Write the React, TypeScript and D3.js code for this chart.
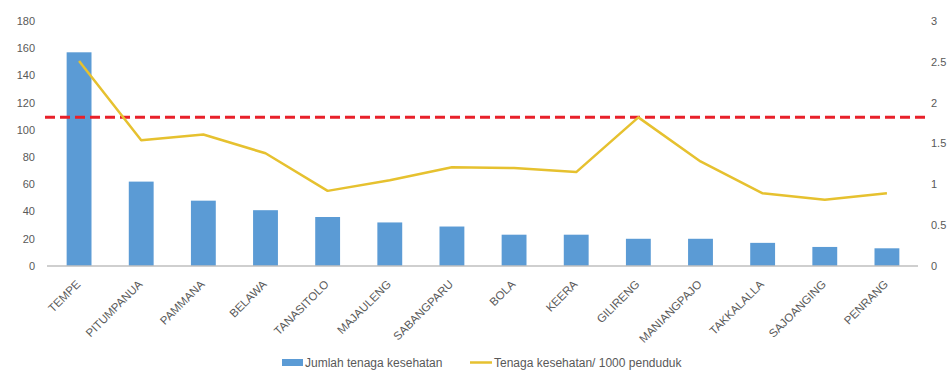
import React from "react";
import * as d3 from "d3";

const categories = ["TEMPE","PITUMPANUA","PAMMANA","BELAWA","TANASITOLO","MAJAULENG","SABANGPARU","BOLA","KEERA","GILIRENG","MANIANGPAJO","TAKKALALLA","SAJOANGING","PENRANG"];
const jumlahTenaga = [157, 62, 48, 41, 36, 32, 29, 23, 23, 20, 20, 17, 14, 13];
const perSeribu = [2.51, 1.54, 1.61, 1.38, 0.92, 1.05, 1.21, 1.2, 1.15, 1.82, 1.28, 0.89, 0.81, 0.89];
const leftTicks = [0, 20, 40, 60, 80, 100, 120, 140, 160, 180];
const rightTicks = [0, 0.5, 1, 1.5, 2, 2.5, 3];
const referenceValue = 1.82;
const legendLabels = ["Jumlah tenaga kesehatan", "Tenaga kesehatan/ 1000 penduduk"];

const W = 949, H = 372;
const FONT = "'Liberation Sans', Arial, sans-serif";

export default function App() {
  const x = d3.scaleBand<string>().domain(categories).range([48, 918]).paddingInner(0.6).paddingOuter(0.3);
  const yL = d3.scaleLinear().domain([0, 180]).range([266, 21]);
  const yR = d3.scaleLinear().domain([0, 3]).range([266, 21]);
  const cx = (c: string) => (x(c) as number) + x.bandwidth() / 2;
  const line = d3.line<number>().x((_, i) => cx(categories[i])).y((d) => yR(d));

  return (
    <svg width={W} height={H} style={{ position: "absolute", left: 0, top: 0, background: "#fff" }} fontFamily={FONT}>
      {leftTicks.map((t) => (
        <text key={"l" + t} x={35} y={yL(t)} dy="0.35em" textAnchor="end" fontSize={11} fill="#595959">{t}</text>
      ))}
      {rightTicks.map((t) => (
        <text key={"r" + t} x={931} y={yR(t)} dy="0.35em" textAnchor="start" fontSize={11} fill="#595959">{t}</text>
      ))}
      {categories.map((c, i) => (
        <rect key={c} x={x(c)} y={yL(jumlahTenaga[i])} width={x.bandwidth()} height={yL(0) - yL(jumlahTenaga[i])} fill="#5B9BD5" />
      ))}
      <line x1={47} x2={918} y1={yL(0)} y2={yL(0)} stroke="#BFBFBF" strokeWidth={1.5} />
      <line x1={45} x2={928} y1={yR(referenceValue)} y2={yR(referenceValue)} stroke="#E8202A" strokeWidth={3} strokeDasharray="10,5" />
      <path d={line(perSeribu) || ""} fill="none" stroke="#E6C12F" strokeWidth={2.5} strokeLinejoin="round" />
      {categories.map((c) => (
        <text key={"x" + c} transform={`translate(${cx(c) + 2},285) rotate(-45)`} textAnchor="end" fontSize={11.5} fill="#595959">{c}</text>
      ))}
      <rect x={282} y={359} width={21} height={7} fill="#5B9BD5" />
      <text x={305} y={362.5} dy="0.35em" fontSize={12} fill="#595959">{legendLabels[0]}</text>
      <line x1={470} x2={492} y1={362.5} y2={362.5} stroke="#E6C12F" strokeWidth={2.5} />
      <text x={494} y={362.5} dy="0.35em" fontSize={12} fill="#595959">{legendLabels[1]}</text>
    </svg>
  );
}
